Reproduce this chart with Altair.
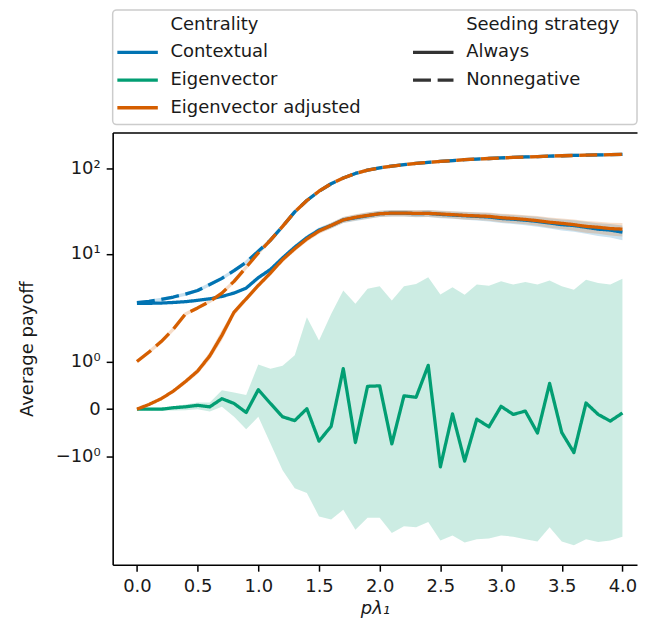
import math
import altair as alt
import pandas as pd

# ---------------- data ----------------
x_vals = [0.0, 0.1, 0.2, 0.3, 0.4, 0.5, 0.6, 0.7, 0.8, 0.9, 1.0, 1.1, 1.2, 1.3, 1.4,
          1.5, 1.6, 1.7, 1.8, 1.9, 2.0, 2.1, 2.2, 2.3, 2.4, 2.5, 2.6, 2.7, 2.8, 2.9,
          3.0, 3.1, 3.2, 3.3, 3.4, 3.5, 3.6, 3.7, 3.8, 3.9, 4.0]

contextual_always = [2.65, 2.66, 2.68, 2.72, 2.78, 2.88, 3.0, 3.2, 3.5, 4.0, 5.3, 6.6, 9.0, 12.0,
                     15.5, 19.0, 21.5, 25.0, 26.5, 28.0, 29.5, 30.0, 30.0, 29.5, 29.8, 29.0, 28.5,
                     28.0, 27.5, 27.0, 26.0, 25.5, 24.8, 24.0, 23.0, 22.0, 21.5, 20.5, 19.5, 19.0, 18.0]
contextual_always_lo = [2.60, 2.61, 2.63, 2.66, 2.72, 2.81, 2.92, 3.10, 3.38, 3.85, 5.05, 6.25, 8.5,
                        11.2, 14.4, 17.6, 19.8, 23.0, 24.3, 25.6, 27.0, 27.4, 27.3, 26.8, 27.0, 26.2,
                        25.7, 25.1, 24.6, 24.0, 23.0, 22.4, 21.7, 20.8, 19.8, 18.8, 18.2, 17.2, 16.2,
                        15.6, 14.5]
contextual_always_hi = [2.70, 2.71, 2.73, 2.78, 2.84, 2.95, 3.08, 3.30, 3.62, 4.15, 5.55, 6.95, 9.5,
                        12.8, 16.6, 20.4, 23.2, 27.0, 28.7, 30.4, 32.0, 32.6, 32.7, 32.2, 32.6, 31.8,
                        31.3, 30.9, 30.4, 30.0, 29.0, 28.6, 27.9, 27.2, 26.2, 25.2, 24.8, 23.8, 22.8,
                        22.4, 21.5]

contextual_nonneg = [2.7, 2.8, 2.95, 3.15, 3.4, 3.75, 4.4, 5.2, 6.4, 8.0, 10.8, 14.5, 21.0, 31.0,
                     42.0, 54.0, 66.0, 77.0, 87.0, 95.0, 101.0, 106.0, 110.0, 114.0, 117.0, 120.0,
                     123.0, 126.0, 128.0, 130.0, 132.0, 134.0, 135.5, 137.0, 138.5, 140.0, 141.0,
                     142.0, 143.0, 144.0, 145.0]

eigen_always = [0.0, 0.0, 0.0, 0.03, 0.05, 0.08, 0.05, 0.22, 0.12, -0.07, 0.41, 0.12, -0.16, -0.24,
                0.01, -0.67, -0.36, 0.85, -0.70, 0.48, 0.49, -0.73, 0.28, 0.25, 0.92, -1.21, -0.10,
                -1.09, -0.21, -0.37, 0.06, -0.11, -0.04, -0.50, 0.54, -0.49, -0.91, 0.13, -0.11,
                -0.25, -0.08]
eigen_always_lo = [-0.01, -0.02, -0.03, -0.03, -0.02, 0.0, -0.05, 0.05, -0.16, -0.42, -0.16, -0.72,
                   -1.28, -1.66, -1.76, -2.76, -3.0, -2.31, -3.95, -2.85, -2.85, -4.32, -3.6, -3.7,
                   -3.2, -5.27, -4.6, -5.55, -5.1, -5.0, -4.6, -4.75, -5.1, -5.4, -3.7, -5.4, -6.0,
                   -5.1, -5.5, -5.27, -4.75]
eigen_always_hi = [0.02, 0.03, 0.03, 0.06, 0.10, 0.14, 0.14, 0.40, 0.35, 0.30, 0.94, 0.85, 0.91,
                   1.13, 1.93, 1.44, 2.0, 3.75, 2.62, 3.93, 4.2, 2.87, 4.2, 4.48, 5.35, 3.37, 4.1,
                   3.35, 4.4, 4.25, 4.81, 4.4, 4.7, 4.4, 4.9, 4.2, 3.82, 5.0, 4.6, 4.4, 5.13]

adjusted_always = [0.0, 0.10, 0.22, 0.38, 0.58, 0.80, 1.12, 1.55, 2.10, 3.00, 4.30, 6.0, 8.6, 11.5,
                   15.0, 18.5, 21.5, 25.0, 26.8, 28.2, 29.5, 30.0, 30.0, 29.8, 29.8, 29.3, 28.8,
                   28.2, 27.8, 27.5, 26.5, 26.0, 25.3, 24.5, 23.5, 22.8, 22.0, 21.0, 20.5, 19.8, 19.5]
adjusted_always_lo = [-0.01, 0.08, 0.19, 0.34, 0.53, 0.74, 1.04, 1.44, 1.96, 2.80, 4.02, 5.6, 8.0,
                      10.7, 13.9, 17.1, 19.8, 23.0, 24.6, 25.8, 27.0, 27.4, 27.3, 27.1, 27.0, 26.5,
                      26.0, 25.3, 24.9, 24.5, 23.5, 22.9, 22.2, 21.3, 20.3, 19.6, 18.7, 17.7, 17.2,
                      16.4, 16.0]
adjusted_always_hi = [0.01, 0.12, 0.25, 0.42, 0.63, 0.86, 1.20, 1.66, 2.24, 3.20, 4.58, 6.4, 9.2,
                      12.3, 16.1, 19.9, 23.2, 27.0, 29.0, 30.6, 32.0, 32.6, 32.7, 32.5, 32.6, 32.1,
                      31.6, 31.1, 30.7, 30.5, 29.5, 29.1, 28.4, 27.7, 26.7, 26.0, 25.3, 24.3, 23.8,
                      23.2, 23.0]

adjusted_nonneg = [1.0, 1.2, 1.42, 1.68, 2.0, 2.35, 2.8, 3.5, 4.8, 7.0, 10.3, 14.5, 21.0, 31.0,
                   42.0, 54.0, 66.0, 77.0, 87.0, 95.0, 101.0, 106.0, 110.0, 114.0, 117.0, 120.0,
                   123.0, 126.0, 128.0, 130.0, 132.0, 134.0, 135.5, 137.0, 138.5, 140.0, 141.0,
                   142.0, 143.0, 144.0, 145.0]

centralities = ["Contextual", "Eigenvector", "Eigenvector adjusted"]
strategies = ["Always", "Nonnegative"]
palette = ["#0173B2", "#029E73", "#D55E00"]

x_tick_values = [0.0, 0.5, 1.0, 1.5, 2.0, 2.5, 3.0, 3.5, 4.0]
y_tick_values = [-1, 0, 1, 10, 100]
y_tick_labels = ["\u221210\u2070", "0", "10\u2070", "10\u00b9", "10\u00b2"]

# ---------------- style ----------------
FONT = "DejaVu Sans"
FS = 18
TXT = "#1a1a1a"
LW = 3.3
DASH = [13, 5]
PLOT_W = 526
PLOT_H = 433.5
X_DOMAIN = [-0.2, 4.12]


# matplotlib-style symlog (linthresh=2, linscale=1, base 10)
def symlog(v, thresh=2.0):
    adj = 1.0 / (1.0 - 0.1)
    if abs(v) <= thresh:
        return v * adj
    return math.copysign(thresh * (adj + math.log10(abs(v) / thresh)), v)


SYMLOG = ("abs({f}) <= 2 ? {f} / 0.9 : "
          "({f} > 0 ? 1 : -1) * 2 * (1 / 0.9 + log(abs({f}) / 2) / LN10)")

label_expr = "''"
for v, lab in reversed(list(zip(y_tick_values, y_tick_labels))):
    label_expr = f"abs(datum.value - {symlog(v):.6f}) < 0.001 ? '{lab}' : ({label_expr})"

series = [
    ("Contextual", "Always", contextual_always, contextual_always_lo, contextual_always_hi),
    ("Contextual", "Nonnegative", contextual_nonneg, None, None),
    ("Eigenvector", "Always", eigen_always, eigen_always_lo, eigen_always_hi),
    ("Eigenvector adjusted", "Always", adjusted_always, adjusted_always_lo, adjusted_always_hi),
    ("Eigenvector adjusted", "Nonnegative", adjusted_nonneg, None, None),
]

xscale = alt.Scale(domain=X_DOMAIN, nice=False, zero=False)
yscale = alt.Scale(domain=[-3.628, 6.453], nice=False, zero=False)
color_scale = alt.Scale(domain=centralities, range=palette)
dash_scale = alt.Scale(domain=strategies, range=[[1, 0], DASH])

xaxis = alt.Axis(values=x_tick_values, format=".1f", title="p\u03bb\u2081", grid=False,
                 titleFontStyle="italic", labelPadding=6, titlePadding=4)
xaxis_top = alt.Axis(orient="top", labels=False, ticks=False, domain=True, grid=False, title="")
yaxis = alt.Axis(values=[symlog(v) for v in y_tick_values], labelExpr=label_expr,
                 title="Average payoff", grid=False, labelPadding=6, titlePadding=19)


def frame(c, s, m, lo, hi):
    return pd.DataFrame({
        "x": x_vals, "centrality": c, "strategy": s, "mean": m,
        "lo": lo if lo is not None else m, "hi": hi if hi is not None else m,
    })


def base(df):
    return alt.Chart(df).transform_calculate(
        t=SYMLOG.format(f="datum.mean"),
        tlo=SYMLOG.format(f="datum.lo"),
        thi=SYMLOG.format(f="datum.hi"),
    )


band_layers = []
line_layers = []
for i, (c, s, m, lo, hi) in enumerate(series):
    df = frame(c, s, m, lo, hi)
    col = alt.Color("centrality:N", scale=color_scale, legend=None)
    if lo is not None:
        band_layers.append(
            base(df).mark_area(opacity=0.2).encode(
                x=alt.X("x:Q", scale=xscale, axis=xaxis),
                y=alt.Y("tlo:Q", scale=yscale, axis=yaxis),
                y2="thi:Q",
                color=col,
            )
        )
    else:
        band_layers.append(
            base(df).mark_line(opacity=0.22, strokeWidth=LW, strokeJoin="round").encode(
                x=alt.X("x:Q", scale=xscale, axis=xaxis),
                y=alt.Y("t:Q", scale=yscale, axis=yaxis),
                color=col,
            )
        )
    is_last = i == len(series) - 1
    line_layers.append(
        base(df).mark_line(strokeWidth=LW, strokeJoin="round").encode(
            x=alt.X("x:Q", scale=xscale, axis=xaxis_top if is_last else xaxis),
            y=alt.Y("t:Q", scale=yscale, axis=yaxis),
            color=col,
            strokeDash=alt.StrokeDash("strategy:N", scale=dash_scale, legend=None),
        )
    )

inner = alt.layer(*band_layers, *line_layers[:-1])
main = alt.layer(inner, line_layers[-1]).resolve_axis(x="independent").properties(
    width=PLOT_W, height=PLOT_H
)

# ---------------- legend panel ----------------
legend_titles = pd.DataFrame({"label": ["Centrality", "Seeding strategy"], "col": [0, 1], "row": [0, 0]})
legend_cent = pd.DataFrame({"label": centralities, "col": [0, 0, 0], "row": [1, 2, 3]})
legend_strat = pd.DataFrame({"label": strategies, "col": [1, 1], "row": [1, 2]})
legend_text = pd.concat([legend_titles, legend_cent, legend_strat], ignore_index=True)

lx = alt.X("col:Q", scale=alt.Scale(domain=[0, 1], range=[4.7, 301.3]), axis=None)
ly = alt.Y("row:Q", scale=alt.Scale(domain=[0, 3], range=[14.7, 98.1]), axis=None)

leg_text = alt.Chart(legend_text).mark_text(
    align="left", baseline="middle", dx=53.3, fontSize=FS, font=FONT, color=TXT
).encode(x=lx, y=ly, text="label:N")

leg_cent = alt.Chart(legend_cent).mark_rule(strokeWidth=LW, x2Offset=40.6).encode(
    x=lx, x2="col:Q", y=ly,
    color=alt.Color("label:N", scale=color_scale, legend=None),
)

leg_strat = alt.Chart(legend_strat).mark_rule(strokeWidth=LW, x2Offset=40.6, color="#333333").encode(
    x=lx, x2="col:Q", y=ly,
    strokeDash=alt.StrokeDash("label:N", scale=alt.Scale(domain=strategies, range=[[1, 0], [18, 6.7]]),
                              legend=None),
)

legend = alt.layer(leg_cent, leg_strat, leg_text).properties(
    width=PLOT_W, height=115,
    view=alt.ViewBackground(stroke="#cccccc", strokeWidth=1.5, cornerRadius=4),
)

chart = alt.vconcat(legend, main, spacing=8, bounds="flush").properties(
    padding={"left": 10, "top": 0, "right": 0, "bottom": 0}
).configure_view(stroke=None).configure_axis(
    labelFont=FONT, titleFont=FONT, labelFontSize=FS, titleFontSize=FS,
    labelColor=TXT, titleColor=TXT, titleFontWeight="normal",
    domainColor="#000000", domainWidth=1.6, tickColor="#000000", tickWidth=1.5, tickSize=6.5,
)

chart.save("out.html", embed_options={"renderer": "svg", "actions": False})
